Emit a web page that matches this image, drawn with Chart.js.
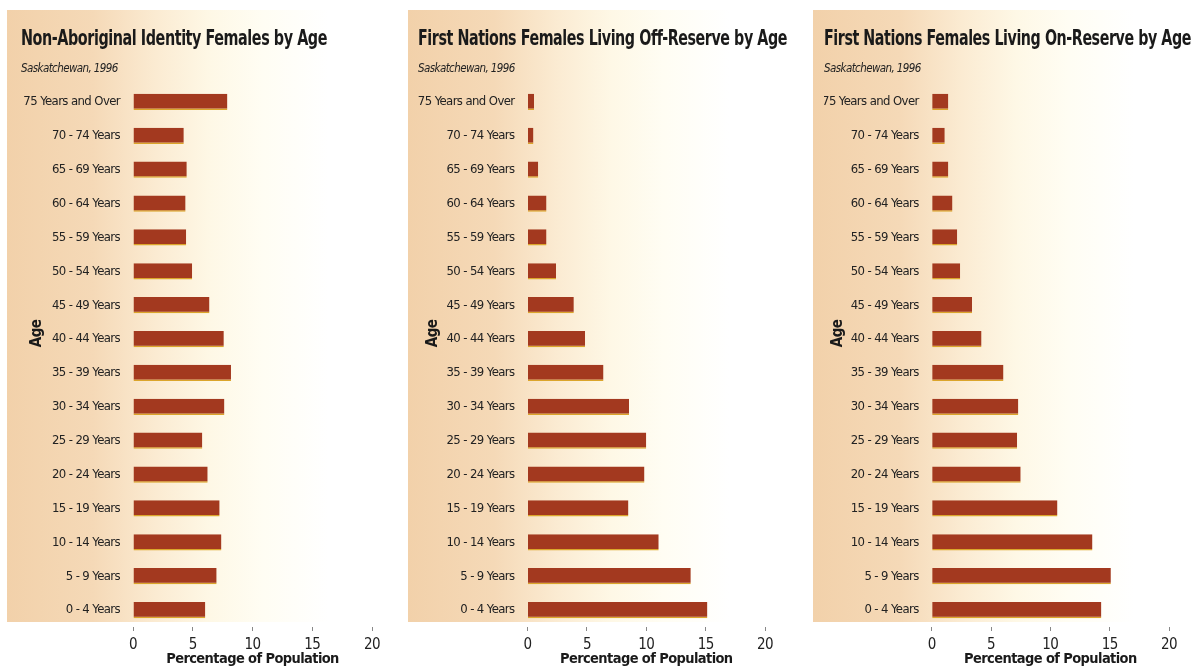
<!DOCTYPE html>
<html>
<head>
<meta charset="utf-8">
<script src="https://cdn.jsdelivr.net/npm/chart.js@4/dist/chart.umd.min.js"></script>
<style>
  body { margin: 0; width: 1195px; height: 672px; background: #fff; position: relative; overflow: hidden; }
  .bg { position: absolute; top: 10px; height: 612px; width: 392px;
        background: linear-gradient(to right, #f2d1aa 0%, #f5d9b7 22%, #fbebd2 38%, #fef8e6 52%, #fffdf3 65%, #fff 82%); }
  .wrap { position: absolute; top: 0; height: 672px; }
</style>
</head>
<body>
<div class="bg" style="left:7px"></div>
<div class="bg" style="left:408px"></div>
<div class="bg" style="left:813px"></div>
<div class="wrap" style="left:0;width:398px"><canvas id="c1"></canvas></div>
<div class="wrap" style="left:398px;width:402px"><canvas id="c2"></canvas></div>
<div class="wrap" style="left:800px;width:395px"><canvas id="c3"></canvas></div>
<script>
var ageGroups = ['75 Years and Over', '70 - 74 Years', '65 - 69 Years', '60 - 64 Years',
  '55 - 59 Years', '50 - 54 Years', '45 - 49 Years', '40 - 44 Years', '35 - 39 Years',
  '30 - 34 Years', '25 - 29 Years', '20 - 24 Years', '15 - 19 Years', '10 - 14 Years',
  '5 - 9 Years', '0 - 4 Years'];

var nonAboriginal = [7.9, 4.25, 4.5, 4.4, 4.45, 4.95, 6.4, 7.6, 8.2, 7.65, 5.8, 6.25, 7.25, 7.4, 7.0, 6.05];
var offReserve = [0.55, 0.5, 0.9, 1.6, 1.6, 2.4, 3.9, 4.85, 6.4, 8.55, 10.0, 9.85, 8.5, 11.05, 13.75, 15.15];
var onReserve = [1.4, 1.1, 1.4, 1.75, 2.15, 2.4, 3.4, 4.2, 6.05, 7.3, 7.2, 7.5, 10.6, 13.55, 15.1, 14.3];

var xTicks = [0, 5, 10, 15, 20];
var subtitleText = 'Saskatchewan, 1996';
var xTitle = 'Percentage of Population';
var yTitle = 'Age';

var FONT = "'Liberation Sans Narrow', 'DejaVu Sans Condensed', 'Roboto Condensed', 'Open Sans', sans-serif";

// the printed chart uses a condensed face, tighten letters a bit
var tightText = {
  id: 'tightText',
  beforeUpdate: function (chart) { chart.ctx.letterSpacing = '-0.6px'; },
  beforeDraw: function (chart, args, opts) {
    chart.ctx.letterSpacing = '-0.6px';
    // squeeze the heading into the width it has in print
    if (chart.titleBlock && opts.titleWidth) chart.titleBlock.right = chart.titleBlock.left + opts.titleWidth;
  }
};

function makeChart(id, titleText, values, g) {
  var ctx = document.getElementById(id);
  ctx.width = g.w;
  ctx.height = 672;
  var titleSize = 22;
  var titlePadTop = 39 - 0.6 * titleSize;
  var subPadTop = 69 - 6.9 - (titlePadTop + 1.2 * titleSize);
  return new Chart(ctx, {
    type: 'bar',
    plugins: [tightText],
    data: {
      labels: ageGroups,
      datasets: [{
        data: values,
        backgroundColor: '#a3391f',
        borderColor: '#dba52b',
        borderWidth: { top: 0, left: 0, right: 0, bottom: 1.5 },
        borderSkipped: false,
        barPercentage: 0.48,
        categoryPercentage: 1
      }]
    },
    options: {
      indexAxis: 'y',
      responsive: false,
      animation: false,
      layout: { padding: { left: g.padL, right: 0, top: 0, bottom: 0 } },
      plugins: {
        legend: { display: false },
        tooltip: { enabled: false },
        tightText: { titleWidth: g.titleW },
        title: {
          display: true, text: titleText, align: 'start', color: '#1a1a1a',
          font: { family: FONT, size: titleSize, weight: 'bold' },
          padding: { top: titlePadTop, bottom: 0 }
        },
        subtitle: {
          display: true, text: subtitleText, align: 'start', color: '#222',
          font: { family: FONT, size: 11.5, style: 'italic' },
          padding: { top: subPadTop, bottom: 85 - (69 + 6.9) }
        }
      },
      scales: {
        x: {
          min: 0, max: 20,
          afterBuildTicks: function (s) { s.ticks = xTicks.map(function (v) { return { value: v }; }); },
          afterFit: function (s) { s.height = 45; },
          grid: { drawOnChartArea: false, drawTicks: true, tickLength: 4, color: '#888' },
          border: { display: false },
          ticks: { color: '#222', padding: 5, font: { family: FONT, size: 15 } },
          title: {
            display: true, text: xTitle, color: '#1a1a1a',
            font: { family: FONT, size: 14.5, weight: 'bold' },
            padding: { top: 0, bottom: 4 }
          }
        },
        y: {
          afterFit: function (s) { s.width = g.axisW; },
          grid: { display: false, drawTicks: false },
          border: { display: false },
          ticks: { color: '#222', padding: 13, font: { family: FONT, size: 13 } },
          title: {
            display: true, text: '           ' + yTitle, color: '#1a1a1a',
            font: { family: FONT, size: 15, weight: 'bold' },
            padding: { top: g.agePad, bottom: 0 }
          }
        },
        // empty spacer on the right so the title box can run wider than the plot
        spacer: {
          type: 'linear', position: 'right', axis: 'y',
          afterFit: function (s) { s.width = g.padR; },
          grid: { display: false, drawTicks: false },
          border: { display: false },
          ticks: { display: false }
        }
      }
    }
  });
}

makeChart('c1', 'Non-Aboriginal Identity Females by Age', nonAboriginal,
  { w: 398, padL: 21, padR: 26, axisW: 112, agePad: 7.5, titleW: 306 });
makeChart('c2', 'First Nations Females Living Off-Reserve by Age', offReserve,
  { w: 402, padL: 20, padR: 35, axisW: 109.5, agePad: 6, titleW: 369 });
makeChart('c3', 'First Nations Females Living On-Reserve by Age', onReserve,
  { w: 395, padL: 24, padR: 26, axisW: 107.7, agePad: 5, titleW: 367 });
</script>
</body>
</html>
